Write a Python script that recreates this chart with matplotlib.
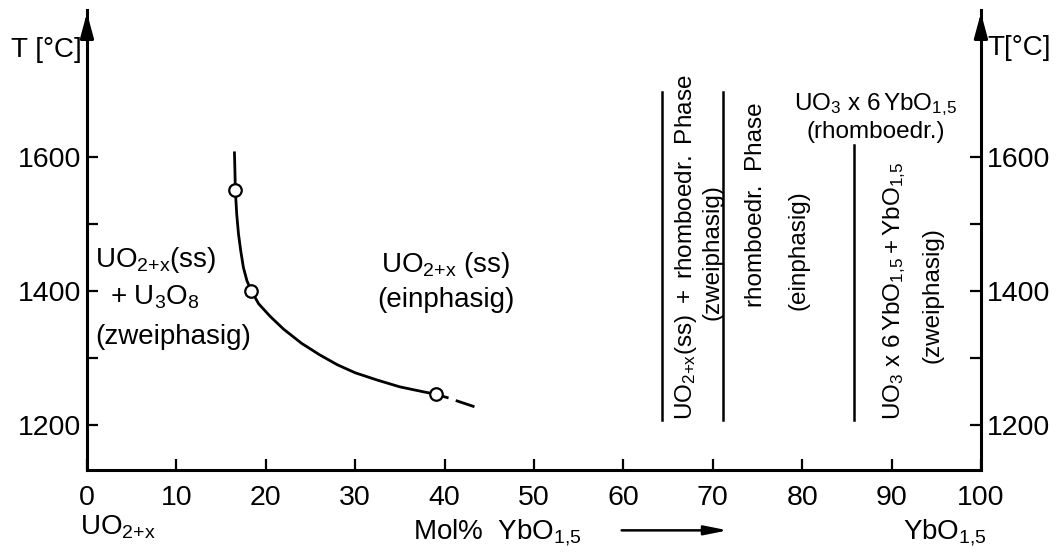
import matplotlib.pyplot as plt
import numpy as np

plt.rcParams['font.family'] = ['Liberation Sans', 'DejaVu Sans']
plt.rcParams['mathtext.fontset'] = 'custom'
plt.rcParams['mathtext.rm'] = 'Liberation Sans'
plt.rcParams['mathtext.it'] = 'Liberation Sans'

# phase boundary (Mol% YbO1,5, T in degC)
curve_x = [16.5, 16.55, 16.6, 16.75, 16.95, 17.2, 17.5, 17.9, 18.4, 19.2, 20.5,
           22.0, 24.0, 26.0, 28.0, 30.0, 32.5, 35.0, 37.5, 39.0, 40.3]
curve_y = [1606, 1580, 1550, 1515, 1485, 1460, 1435, 1415, 1400, 1381, 1362,
           1343, 1322, 1305, 1290, 1278, 1267, 1257, 1250, 1246, 1241]
dash_x = [41.4, 43.2]
dash_y = [1236, 1228]

# measured points
meas_x = [16.6, 18.4, 39.0]
meas_y = [1550, 1400, 1246]

# vertical phase boundaries: x, bottom, top
vlines_x = [64.3, 71.1, 85.8]
vlines_lo = [1207, 1207, 1207]
vlines_hi = [1696, 1696, 1618]

xticks = list(range(0, 101, 10))
yticks = [1200, 1300, 1400, 1500, 1600]
ylabels = ['1200', '', '1400', '', '1600']

fig = plt.figure(figsize=(10.63, 5.59), dpi=100)
ax = fig.add_axes([0.0818, 0.1592, 0.841, 0.8229])
ax.set_xlim(0, 100)
ax.set_ylim(1133, 1819)

for s in ['left', 'right', 'bottom']:
    ax.spines[s].set_linewidth(2.2)
ax.spines['top'].set_visible(False)

ax.set_xticks(xticks)
ax.set_yticks(yticks)
ax.set_yticklabels(ylabels)
ax.tick_params(axis='both', direction='in', length=8, width=1.6, labelsize=20.5)
ax.tick_params(axis='x', pad=11)
ax.tick_params(axis='y', right=True, labelright=True, pad=4)

# arrow heads on the temperature axes
for xa in [0, 100]:
    ax.annotate('', xy=(xa, 1819), xytext=(xa, 1770), annotation_clip=False,
                arrowprops=dict(arrowstyle='-|>,head_length=1.0,head_width=0.27',
                                mutation_scale=15, lw=2.2, color='k'))

ax.plot(curve_x, curve_y, color='k', lw=2)
ax.plot(dash_x, dash_y, color='k', lw=2)
ax.plot(meas_x, meas_y, 'o', ms=9, mfc='white', mec='k', mew=1.6, zorder=5)

for x, lo, hi in zip(vlines_x, vlines_lo, vlines_hi):
    ax.plot([x, x], [lo, hi], color='k', lw=1.8)

fs = 20
ax.text(-0.6, 1760, 'T [°C]', fontsize=fs, ha='right', va='center')
ax.text(100.7, 1763, 'T[°C]', fontsize=fs, ha='left', va='center')

ax.text(0.9, 1446, r'$\mathregular{UO_{2{+}x}(ss)}$', fontsize=fs, ha='left', va='center')
ax.text(2.6, 1391, r'$\mathregular{+\ U_3O_8}$', fontsize=fs, ha='left', va='center')
ax.text(0.9, 1331, '(zweiphasig)', fontsize=fs, ha='left', va='center')

ax.text(40.1, 1439, r'$\mathregular{UO_{2{+}x}\ (ss)}$', fontsize=fs, ha='center', va='center')
ax.text(40.1, 1387, '(einphasig)', fontsize=fs, ha='center', va='center')

fr = 17.5
ax.text(67.0, 1207, r'$\mathregular{UO_{2{+}x}(ss)\ +\ rhomboedr.\ Phase}$', fontsize=fr,
        rotation=90, ha='center', va='bottom')
ax.text(70.0, 1458, '(zweiphasig)', fontsize=fr, rotation=90, ha='center', va='center')
ax.text(74.8, 1528, 'rhomboedr.  Phase', fontsize=fr, rotation=90, ha='center', va='center')
ax.text(79.6, 1461, '(einphasig)', fontsize=fr, rotation=90, ha='center', va='center')
ax.text(90.3, 1207, r'$\mathregular{UO_3\ x\ 6\,YbO_{1{,}5}+YbO_{1{,}5}}$', fontsize=fr,
        rotation=90, ha='center', va='bottom')
ax.text(94.6, 1394, '(zweiphasig)', fontsize=fr, rotation=90, ha='center', va='center')

ax.text(88.2, 1678, r'$\mathregular{UO_3\ x\ 6\,YbO_{1{,}5}}$', fontsize=fr, ha='center', va='center')
ax.text(88.2, 1637, '(rhomboedr.)', fontsize=fr, ha='center', va='center')

# composition labels under the axis
ax.text(-0.8, 1048, r'$\mathregular{UO_{2{+}x}}$', fontsize=fs, ha='left', va='center', clip_on=False)
ax.text(36.5, 1039, r'$\mathregular{Mol\%\ \ YbO_{1{,}5}}$', fontsize=fs, ha='left', va='center', clip_on=False)
ax.annotate('', xy=(72, 1043), xytext=(59.5, 1043), annotation_clip=False,
            arrowprops=dict(arrowstyle='-|>,head_length=1.0,head_width=0.2',
                            mutation_scale=14, lw=1.8, color='k'))
ax.text(100.7, 1039, r'$\mathregular{YbO_{1{,}5}}$', fontsize=fs, ha='right', va='center', clip_on=False)

fig.savefig('out.png', dpi=100)
